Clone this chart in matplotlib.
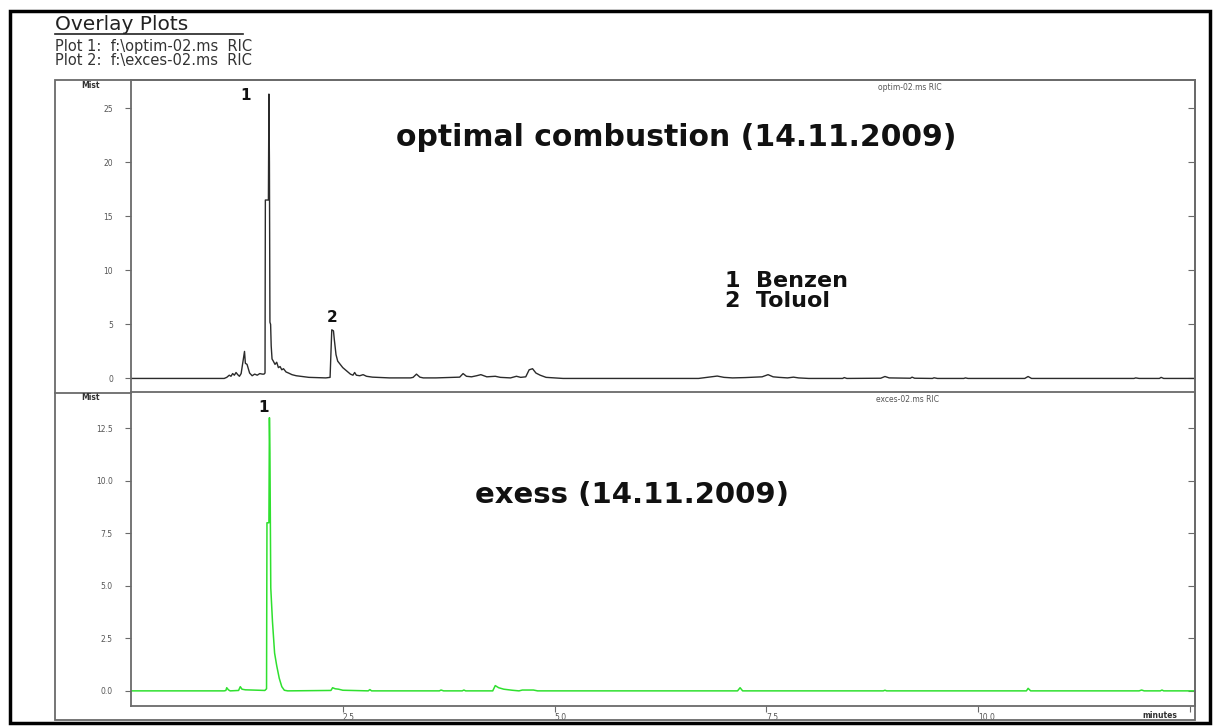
import matplotlib
matplotlib.use("Agg")
import matplotlib.pyplot as plt
from matplotlib.lines import Line2D
from matplotlib.patches import Rectangle

# ---------------- data ----------------
top_time = [0.00, 1.10, 1.13, 1.16, 1.18, 1.20, 1.22, 1.24, 1.26, 1.28, 1.30, 1.32, 1.34, 1.35, 1.37,
            1.40, 1.43, 1.46, 1.49, 1.52, 1.55, 1.570, 1.582, 1.586, 1.622, 1.628, 1.634, 1.640, 1.648,
            1.655, 1.665, 1.68, 1.70, 1.72, 1.74, 1.76, 1.78, 1.80, 1.83, 1.86, 1.90, 1.95, 2.00, 2.05,
            2.10, 2.20, 2.30, 2.35, 2.37, 2.39, 2.40, 2.42, 2.44, 2.47, 2.50, 2.53, 2.56, 2.59, 2.62,
            2.64, 2.66, 2.70, 2.74, 2.78, 2.85, 2.95, 3.05, 3.30, 3.33, 3.37, 3.41, 3.45, 3.60, 3.88,
            3.92, 3.96, 4.02, 4.08, 4.13, 4.20, 4.30, 4.36, 4.48, 4.55, 4.60, 4.66, 4.70, 4.74, 4.78,
            4.83, 4.90, 5.00, 5.10, 6.70, 6.80, 6.92, 7.00, 7.10, 7.25, 7.35, 7.45, 7.52, 7.58, 7.65,
            7.75, 7.82, 7.88, 8.00, 8.40, 8.42, 8.45, 8.85, 8.90, 8.95, 9.20, 9.22, 9.25, 9.46, 9.48,
            9.52, 9.83, 9.85, 9.88, 10.55, 10.59, 10.63, 11.84, 11.86, 11.90, 12.14, 12.16, 12.19, 12.56]
top_mcounts = [0.00, 0.00, 0.10, 0.30, 0.20, 0.45, 0.30, 0.55, 0.35, 0.20, 0.45, 1.50, 2.50, 1.40, 1.30,
               0.50, 0.25, 0.40, 0.30, 0.45, 0.40, 0.40, 0.50, 16.5, 16.5, 26.3, 20.0, 5.20, 5.00,
               3.00, 1.80, 1.60, 1.30, 1.50, 1.00, 1.10, 0.80, 0.90, 0.60, 0.50, 0.35, 0.25, 0.20, 0.15,
               0.10, 0.08, 0.05, 0.10, 4.50, 4.40, 3.60, 2.20, 1.60, 1.30, 1.00, 0.80, 0.60, 0.40, 0.30,
               0.55, 0.30, 0.25, 0.35, 0.20, 0.12, 0.08, 0.05, 0.05, 0.10, 0.40, 0.12, 0.05, 0.05, 0.12,
               0.45, 0.20, 0.15, 0.25, 0.35, 0.15, 0.20, 0.10, 0.05, 0.20, 0.10, 0.15, 0.80, 0.90, 0.50,
               0.30, 0.10, 0.05, 0.00, 0.00, 0.10, 0.22, 0.10, 0.05, 0.08, 0.12, 0.15, 0.35, 0.15, 0.10,
               0.05, 0.12, 0.05, 0.00, 0.00, 0.08, 0.00, 0.02, 0.18, 0.05, 0.02, 0.12, 0.02, 0.00, 0.06,
               0.00, 0.00, 0.05, 0.00, 0.00, 0.18, 0.00, 0.00, 0.05, 0.00, 0.00, 0.10, 0.00, 0.00]

bot_time = [0.00, 1.10, 1.12, 1.13, 1.15, 1.17, 1.27, 1.29, 1.31, 1.35, 1.58, 1.600, 1.605, 1.628,
            1.634, 1.640, 1.650, 1.670, 1.695, 1.72, 1.75, 1.78, 1.81, 1.85, 2.36, 2.38, 2.41, 2.45,
            2.50, 2.80, 2.82, 2.84, 3.64, 3.66, 3.69, 3.91, 3.93, 3.95, 4.27, 4.30, 4.34, 4.40, 4.50,
            4.58, 4.62, 4.75, 4.80, 7.16, 7.19, 7.22, 8.88, 8.90, 8.92, 10.57, 10.59, 10.62, 11.90,
            11.93, 11.96, 12.15, 12.17, 12.19, 12.56]
bot_mcounts = [0.00, 0.00, 0.02, 0.15, 0.05, 0.00, 0.02, 0.20, 0.08, 0.05, 0.02, 0.10, 8.0, 8.0,
               13.0, 11.3, 4.9, 3.3, 1.8, 1.2, 0.6, 0.2, 0.03, 0.00, 0.02, 0.15, 0.10, 0.08,
               0.03, 0.00, 0.06, 0.00, 0.00, 0.04, 0.00, 0.00, 0.04, 0.00, 0.00, 0.25, 0.15, 0.08, 0.03,
               0.00, 0.04, 0.04, 0.00, 0.00, 0.15, 0.00, 0.00, 0.03, 0.00, 0.00, 0.12, 0.00, 0.00,
               0.04, 0.00, 0.00, 0.04, 0.00, 0.00]

top_yticks = [0, 5, 10, 15, 20, 25]
top_yticklabels = ["0", "5", "10", "15", "20", "25"]
bot_yticks = [0.0, 2.5, 5.0, 7.5, 10.0, 12.5]
bot_yticklabels = ["0.0", "2.5", "5.0", "7.5", "10.0", "12.5"]
xticks = [2.5, 5.0, 7.5, 10.0, 12.5]
xticklabels = ["2.5", "5.0", "7.5", "10.0", ""]

peak_labels_top = ["1", "2"]
peak_pos_top = [(1.35, 26.2), (2.38, 5.6)]
peak_labels_bot = ["1"]
peak_pos_bot = [(1.57, 13.5)]

compound_legend = ["1  Benzen", "2  Toluol"]

# ---------------- figure ----------------
W, H = 1215, 726
fig = plt.figure(figsize=(W / 100, H / 100), dpi=100)
fig.patch.set_facecolor("white")
plt.rcParams["font.family"] = ["DejaVu Sans"]


def fx(px):
    return px / W


def fy(py):
    return 1 - py / H


FRAME = "#6a6a6a"
TXT = "#555555"

L, R = 131, 1195
T1, B1 = 80, 392.5
T2, B2 = 392.5, 706

ax1 = fig.add_axes([fx(L), fy(B1), fx(R) - fx(L), fy(T1) - fy(B1)])
ax2 = fig.add_axes([fx(L), fy(B2), fx(R) - fx(L), fy(T2) - fy(B2)])

ax1.plot(top_time, top_mcounts, color="#2b2b2b", lw=1.0)
ax2.plot(bot_time, bot_mcounts, color="#2fe02f", lw=1.1)

ax1.set_xlim(0, 12.56)
ax2.set_xlim(0, 12.56)
ax1.set_ylim(-1.3, 27.6)
ax2.set_ylim(-0.72, 14.2)

for ax, yt, ytl in ((ax1, top_yticks, top_yticklabels), (ax2, bot_yticks, bot_yticklabels)):
    for s in ax.spines.values():
        s.set_color(FRAME)
        s.set_linewidth(1.3)
    ax.set_yticks(yt)
    ax.set_yticklabels(ytl)
    ax.tick_params(axis="y", direction="out", length=4, width=0.8, color=FRAME,
                   labelsize=5.5, labelcolor=TXT, pad=9)
    sec = ax.secondary_yaxis("right")
    sec.set_yticks(yt)
    sec.tick_params(axis="y", direction="in", length=5, width=0.8, color=FRAME, labelright=False)
    sec.spines["right"].set_visible(False)

ax1.set_xticks([])
ax2.set_xticks(xticks)
ax2.set_xticklabels(xticklabels)
ax2.tick_params(axis="x", direction="out", length=4, width=0.8, color=FRAME,
                labelsize=5.5, labelcolor=TXT, pad=1)
for lab in ax2.get_xticklabels():
    lab.set_horizontalalignment("left")

# peak labels
for lab, (x, y) in zip(peak_labels_top, peak_pos_top):
    ax1.text(x, y, lab, ha="center", va="center", fontsize=11, fontweight="bold", color="#111111")
for lab, (x, y) in zip(peak_labels_bot, peak_pos_bot):
    ax2.text(x, y, lab, ha="center", va="center", fontsize=11, fontweight="bold", color="#111111")

# big annotations
fig.text(fx(676), fy(138), "optimal combustion (14.11.2009)", ha="center", va="center",
         fontsize=21.5, fontweight="bold", color="#111111")
fig.text(fx(725), fy(291), "\n".join(compound_legend), ha="left", va="center",
         fontsize=16, fontweight="bold", color="#111111", linespacing=0.95)
fig.text(fx(632), fy(495), "exess (14.11.2009)", ha="center", va="center",
         fontsize=21, fontweight="bold", color="#111111")

# small texts
fig.text(fx(910), fy(87), "optim-02.ms RIC", ha="center", va="center", fontsize=5.5, color=TXT)
fig.text(fx(908), fy(400), "exces-02.ms RIC", ha="center", va="center", fontsize=5.5, color=TXT)
fig.text(fx(90), fy(86), "Mist", ha="center", va="center", fontsize=5.5, fontweight="bold", color="#333333")
fig.text(fx(90), fy(398), "Mist", ha="center", va="center", fontsize=5.5, fontweight="bold", color="#333333")
fig.text(fx(1160), fy(715), "minutes", ha="center", va="center", fontsize=5.5, fontweight="bold", color="#333333")

# header
fig.text(fx(55), fy(25), "Overlay Plots", ha="left", va="center", fontsize=14.5, color="#222222")
fig.add_artist(Line2D([fx(55), fx(243)], [fy(34), fy(34)], transform=fig.transFigure,
                      color="#222222", lw=1.2))
fig.text(fx(55), fy(47), r"Plot 1:  f:\optim-02.ms  RIC", ha="left", va="center", fontsize=10.5, color="#333333")
fig.text(fx(55), fy(61), r"Plot 2:  f:\exces-02.ms  RIC", ha="left", va="center", fontsize=10.5, color="#333333")

# panel frame
fig.add_artist(Rectangle((fx(55), fy(720)), fx(1195) - fx(55), fy(80) - fy(720),
                         transform=fig.transFigure, fill=False, edgecolor=FRAME, lw=1.3))
fig.add_artist(Line2D([fx(55), fx(131)], [fy(392.5), fy(392.5)], transform=fig.transFigure,
                      color=FRAME, lw=1.3))

# outer black border
fig.add_artist(Rectangle((fx(10), fy(723)), fx(1210) - fx(10), fy(11) - fy(723),
                         transform=fig.transFigure, fill=False, edgecolor="black", lw=2.5))

fig.savefig("out.png", dpi=100, facecolor="white")
